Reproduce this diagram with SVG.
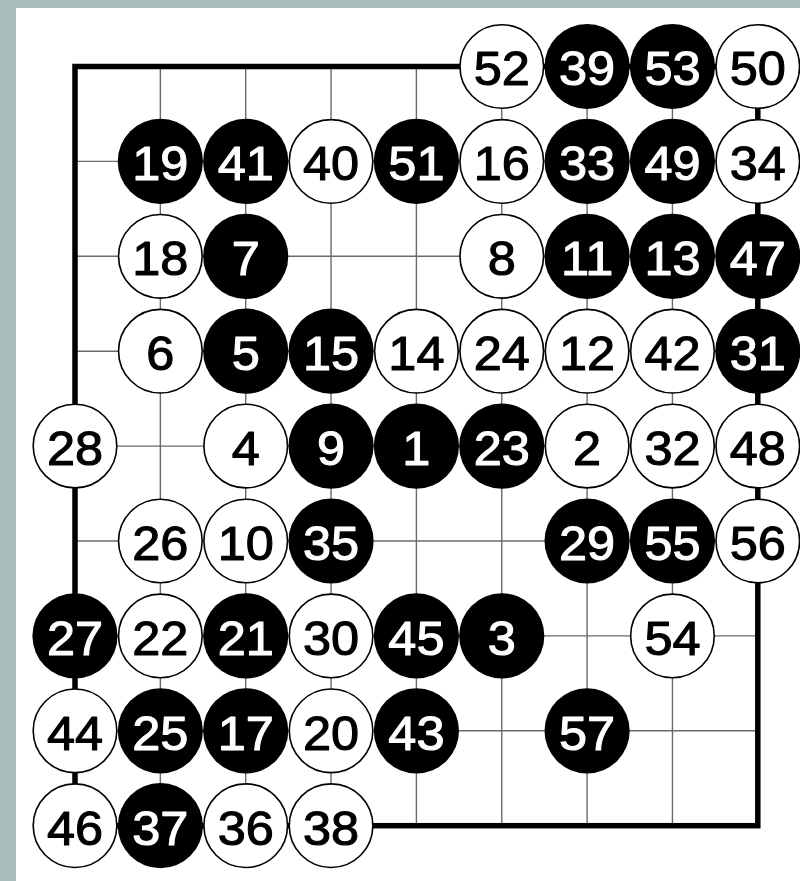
<svg xmlns="http://www.w3.org/2000/svg" width="800" height="881" viewBox="0 0 800 881">
<style>
.grid line{stroke:#6a6a6a;stroke-width:1.4}
.border{fill:none;stroke:#000;stroke-width:5.5;stroke-linejoin:miter}
.w{fill:#fff;stroke:#000;stroke-width:1.6}
.b{fill:#000}
text{font-family:"Liberation Sans",Arial,sans-serif;font-size:49px;text-anchor:middle;stroke-linejoin:round}
.tw{fill:#000;stroke:#000;stroke-width:1.1}
.tb{fill:#fff;stroke:#fff;stroke-width:1.1}
</style>
<rect x="0" y="0" width="800" height="881" fill="#a8bdbb"/>
<rect x="16" y="8" width="784" height="873" fill="#fff"/>
<g id="connectors">
<g class="grid">
<line x1="160.35" y1="66.5" x2="160.35" y2="825.7"/>
<line x1="245.7" y1="66.5" x2="245.7" y2="825.7"/>
<line x1="331.05" y1="66.5" x2="331.05" y2="825.7"/>
<line x1="416.4" y1="66.5" x2="416.4" y2="825.7"/>
<line x1="501.75" y1="66.5" x2="501.75" y2="825.7"/>
<line x1="587.1" y1="66.5" x2="587.1" y2="825.7"/>
<line x1="672.45" y1="66.5" x2="672.45" y2="825.7"/>
<line x1="75" y1="161.4" x2="757.8" y2="161.4"/>
<line x1="75" y1="256.3" x2="757.8" y2="256.3"/>
<line x1="75" y1="351.2" x2="757.8" y2="351.2"/>
<line x1="75" y1="446.1" x2="757.8" y2="446.1"/>
<line x1="75" y1="541" x2="757.8" y2="541"/>
<line x1="75" y1="635.9" x2="757.8" y2="635.9"/>
<line x1="75" y1="730.8" x2="757.8" y2="730.8"/>
</g>
<rect class="border" x="75" y="66.5" width="682.8" height="759.2"/>
</g>
<!-- row 0 -->
<g id="m52" transform="translate(501.75,66.5)"><circle class="w" r="41.8"/><text class="tw" y="18.8" transform="scale(1.03,1)">52</text></g>
<g id="m39" transform="translate(587.1,66.5)"><circle class="b" r="42.6"/><text class="tb" y="18.8" transform="scale(1.03,1)">39</text></g>
<g id="m53" transform="translate(672.45,66.5)"><circle class="b" r="42.6"/><text class="tb" y="18.8" transform="scale(1.03,1)">53</text></g>
<g id="m50" transform="translate(757.8,66.5)"><circle class="w" r="41.8"/><text class="tw" y="18.8" transform="scale(1.03,1)">50</text></g>
<!-- row 1 -->
<g id="m19" transform="translate(160.35,161.4)"><circle class="b" r="42.6"/><text class="tb" y="18.8" transform="scale(1.03,1)">19</text></g>
<g id="m41" transform="translate(245.7,161.4)"><circle class="b" r="42.6"/><text class="tb" y="18.8" transform="scale(1.03,1)">41</text></g>
<g id="m40" transform="translate(331.05,161.4)"><circle class="w" r="41.8"/><text class="tw" y="18.8" transform="scale(1.03,1)">40</text></g>
<g id="m51" transform="translate(416.4,161.4)"><circle class="b" r="42.6"/><text class="tb" y="18.8" transform="scale(1.03,1)">51</text></g>
<g id="m16" transform="translate(501.75,161.4)"><circle class="w" r="41.8"/><text class="tw" y="18.8" transform="scale(1.03,1)">16</text></g>
<g id="m33" transform="translate(587.1,161.4)"><circle class="b" r="42.6"/><text class="tb" y="18.8" transform="scale(1.03,1)">33</text></g>
<g id="m49" transform="translate(672.45,161.4)"><circle class="b" r="42.6"/><text class="tb" y="18.8" transform="scale(1.03,1)">49</text></g>
<g id="m34" transform="translate(757.8,161.4)"><circle class="w" r="41.8"/><text class="tw" y="18.8" transform="scale(1.03,1)">34</text></g>
<!-- row 2 -->
<g id="m18" transform="translate(160.35,256.3)"><circle class="w" r="41.8"/><text class="tw" y="18.8" transform="scale(1.03,1)">18</text></g>
<g id="m7" transform="translate(245.7,256.3)"><circle class="b" r="42.6"/><text class="tb" y="18.8" transform="scale(1.03,1)">7</text></g>
<g id="m8" transform="translate(501.75,256.3)"><circle class="w" r="41.8"/><text class="tw" y="18.8" transform="scale(1.03,1)">8</text></g>
<g id="m11" transform="translate(587.1,256.3)"><circle class="b" r="42.6"/><text class="tb" y="18.8" transform="scale(1.03,1)">11</text></g>
<g id="m13" transform="translate(672.45,256.3)"><circle class="b" r="42.6"/><text class="tb" y="18.8" transform="scale(1.03,1)">13</text></g>
<g id="m47" transform="translate(757.8,256.3)"><circle class="b" r="42.6"/><text class="tb" y="18.8" transform="scale(1.03,1)">47</text></g>
<!-- row 3 -->
<g id="m6" transform="translate(160.35,351.2)"><circle class="w" r="41.8"/><text class="tw" y="18.8" transform="scale(1.03,1)">6</text></g>
<g id="m5" transform="translate(245.7,351.2)"><circle class="b" r="42.6"/><text class="tb" y="18.8" transform="scale(1.03,1)">5</text></g>
<g id="m15" transform="translate(331.05,351.2)"><circle class="b" r="42.6"/><text class="tb" y="18.8" transform="scale(1.03,1)">15</text></g>
<g id="m14" transform="translate(416.4,351.2)"><circle class="w" r="41.8"/><text class="tw" y="18.8" transform="scale(1.03,1)">14</text></g>
<g id="m24" transform="translate(501.75,351.2)"><circle class="w" r="41.8"/><text class="tw" y="18.8" transform="scale(1.03,1)">24</text></g>
<g id="m12" transform="translate(587.1,351.2)"><circle class="w" r="41.8"/><text class="tw" y="18.8" transform="scale(1.03,1)">12</text></g>
<g id="m42" transform="translate(672.45,351.2)"><circle class="w" r="41.8"/><text class="tw" y="18.8" transform="scale(1.03,1)">42</text></g>
<g id="m31" transform="translate(757.8,351.2)"><circle class="b" r="42.6"/><text class="tb" y="18.8" transform="scale(1.03,1)">31</text></g>
<!-- row 4 -->
<g id="m28" transform="translate(75,446.1)"><circle class="w" r="41.8"/><text class="tw" y="18.8" transform="scale(1.03,1)">28</text></g>
<g id="m4" transform="translate(245.7,446.1)"><circle class="w" r="41.8"/><text class="tw" y="18.8" transform="scale(1.03,1)">4</text></g>
<g id="m9" transform="translate(331.05,446.1)"><circle class="b" r="42.6"/><text class="tb" y="18.8" transform="scale(1.03,1)">9</text></g>
<g id="m1" transform="translate(416.4,446.1)"><circle class="b" r="42.6"/><text class="tb" y="18.8" transform="scale(1.03,1)">1</text></g>
<g id="m23" transform="translate(501.75,446.1)"><circle class="b" r="42.6"/><text class="tb" y="18.8" transform="scale(1.03,1)">23</text></g>
<g id="m2" transform="translate(587.1,446.1)"><circle class="w" r="41.8"/><text class="tw" y="18.8" transform="scale(1.03,1)">2</text></g>
<g id="m32" transform="translate(672.45,446.1)"><circle class="w" r="41.8"/><text class="tw" y="18.8" transform="scale(1.03,1)">32</text></g>
<g id="m48" transform="translate(757.8,446.1)"><circle class="w" r="41.8"/><text class="tw" y="18.8" transform="scale(1.03,1)">48</text></g>
<!-- row 5 -->
<g id="m26" transform="translate(160.35,541)"><circle class="w" r="41.8"/><text class="tw" y="18.8" transform="scale(1.03,1)">26</text></g>
<g id="m10" transform="translate(245.7,541)"><circle class="w" r="41.8"/><text class="tw" y="18.8" transform="scale(1.03,1)">10</text></g>
<g id="m35" transform="translate(331.05,541)"><circle class="b" r="42.6"/><text class="tb" y="18.8" transform="scale(1.03,1)">35</text></g>
<g id="m29" transform="translate(587.1,541)"><circle class="b" r="42.6"/><text class="tb" y="18.8" transform="scale(1.03,1)">29</text></g>
<g id="m55" transform="translate(672.45,541)"><circle class="b" r="42.6"/><text class="tb" y="18.8" transform="scale(1.03,1)">55</text></g>
<g id="m56" transform="translate(757.8,541)"><circle class="w" r="41.8"/><text class="tw" y="18.8" transform="scale(1.03,1)">56</text></g>
<!-- row 6 -->
<g id="m27" transform="translate(75,635.9)"><circle class="b" r="42.6"/><text class="tb" y="18.8" transform="scale(1.03,1)">27</text></g>
<g id="m22" transform="translate(160.35,635.9)"><circle class="w" r="41.8"/><text class="tw" y="18.8" transform="scale(1.03,1)">22</text></g>
<g id="m21" transform="translate(245.7,635.9)"><circle class="b" r="42.6"/><text class="tb" y="18.8" transform="scale(1.03,1)">21</text></g>
<g id="m30" transform="translate(331.05,635.9)"><circle class="w" r="41.8"/><text class="tw" y="18.8" transform="scale(1.03,1)">30</text></g>
<g id="m45" transform="translate(416.4,635.9)"><circle class="b" r="42.6"/><text class="tb" y="18.8" transform="scale(1.03,1)">45</text></g>
<g id="m3" transform="translate(501.75,635.9)"><circle class="b" r="42.6"/><text class="tb" y="18.8" transform="scale(1.03,1)">3</text></g>
<g id="m54" transform="translate(672.45,635.9)"><circle class="w" r="41.8"/><text class="tw" y="18.8" transform="scale(1.03,1)">54</text></g>
<!-- row 7 -->
<g id="m44" transform="translate(75,730.8)"><circle class="w" r="41.8"/><text class="tw" y="18.8" transform="scale(1.03,1)">44</text></g>
<g id="m25" transform="translate(160.35,730.8)"><circle class="b" r="42.6"/><text class="tb" y="18.8" transform="scale(1.03,1)">25</text></g>
<g id="m17" transform="translate(245.7,730.8)"><circle class="b" r="42.6"/><text class="tb" y="18.8" transform="scale(1.03,1)">17</text></g>
<g id="m20" transform="translate(331.05,730.8)"><circle class="w" r="41.8"/><text class="tw" y="18.8" transform="scale(1.03,1)">20</text></g>
<g id="m43" transform="translate(416.4,730.8)"><circle class="b" r="42.6"/><text class="tb" y="18.8" transform="scale(1.03,1)">43</text></g>
<g id="m57" transform="translate(587.1,730.8)"><circle class="b" r="42.6"/><text class="tb" y="18.8" transform="scale(1.03,1)">57</text></g>
<!-- row 8 -->
<g id="m46" transform="translate(75,825.7)"><circle class="w" r="41.8"/><text class="tw" y="18.8" transform="scale(1.03,1)">46</text></g>
<g id="m37" transform="translate(160.35,825.7)"><circle class="b" r="42.6"/><text class="tb" y="18.8" transform="scale(1.03,1)">37</text></g>
<g id="m36" transform="translate(245.7,825.7)"><circle class="w" r="41.8"/><text class="tw" y="18.8" transform="scale(1.03,1)">36</text></g>
<g id="m38" transform="translate(331.05,825.7)"><circle class="w" r="41.8"/><text class="tw" y="18.8" transform="scale(1.03,1)">38</text></g>
</svg>
